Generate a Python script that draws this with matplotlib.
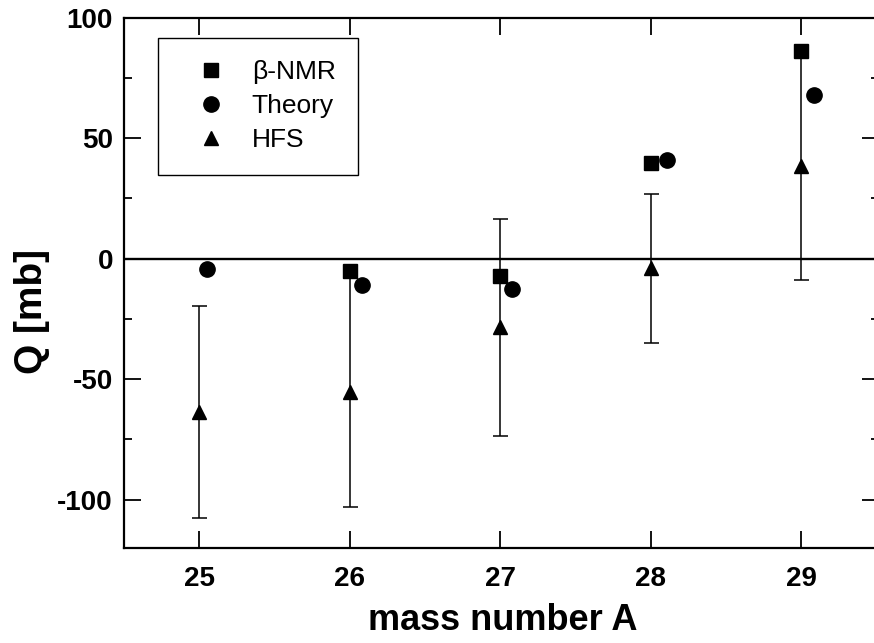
import matplotlib
matplotlib.use("Agg")
import matplotlib.pyplot as plt
from matplotlib.ticker import MultipleLocator

plt.rcParams['font.family'] = ['Liberation Sans', 'DejaVu Sans']
plt.rcParams['axes.unicode_minus'] = False

# Data
bnmr_A = [26, 27, 28, 29]
bnmr_Q = [-5, -7, 39.5, 86]

theory_A = [25.05, 26.08, 27.08, 28.11, 29.08]
theory_Q = [-4.5, -11, -12.5, 40.7, 68]

hfs_A = [25, 26, 27, 28, 29]
hfs_Q = [-63.5, -55.5, -28.5, -4, 38.5]
hfs_err = [44, 47.5, 45, 31, 47.5]

xticks = [25, 26, 27, 28, 29]
yticks = [-100, -50, 0, 50, 100]

fig = plt.figure(figsize=(8.74, 6.43), dpi=100)
ax = fig.add_axes([124/874, (643-548)/643, 755/874, 530.5/643])

ax.axhline(0, color='black', lw=1.7, zorder=1)

ax.errorbar(hfs_A, hfs_Q, yerr=hfs_err, fmt='none', ecolor='black',
            elinewidth=1.1, capsize=5.4, capthick=1.1, zorder=2)

ax.plot(bnmr_A, bnmr_Q, 's', color='black', ms=10, mew=1, label='β-NMR', zorder=4)
ax.plot(theory_A, theory_Q, 'o', color='black', ms=11, mew=1, label='Theory', zorder=4)
ax.plot(hfs_A, hfs_Q, '^', color='black', ms=10, mew=1, label='HFS', zorder=3)

ax.set_xlim(24.5, 29.515)
ax.set_ylim(-120, 100)
ax.set_xticks(xticks)
ax.set_yticks(yticks)
ax.yaxis.set_minor_locator(MultipleLocator(25))

ax.tick_params(axis='both', which='both', direction='in', top=True, right=True,
               width=1.3, colors='black')
ax.tick_params(axis='both', which='major', length=12)
ax.tick_params(axis='both', which='minor', length=6)
ax.tick_params(axis='x', pad=13, labelsize=20)
ax.tick_params(axis='y', pad=8, labelsize=20)
for lbl in ax.get_xticklabels() + ax.get_yticklabels():
    lbl.set_fontweight('bold')

for sp in ax.spines.values():
    sp.set_linewidth(1.6)

ax.set_xlabel('mass number A', fontsize=26, fontweight='bold')
ax.set_ylabel('Q [mb]', fontsize=28, fontweight='bold')
ax.xaxis.set_label_coords(0.502, -0.104)
ax.yaxis.set_label_coords(-0.098, 0.445)

leg = ax.legend(loc='upper left', bbox_to_anchor=((158-124)/755, (548-38)/530.5),
                borderaxespad=0, fancybox=False, edgecolor='black', framealpha=1,
                fontsize=19, numpoints=1, borderpad=0.85, handlelength=2.3,
                handletextpad=0.4, labelspacing=0.38)
leg.get_frame().set_linewidth(1.0)

fig.savefig('out.png', dpi=100)
